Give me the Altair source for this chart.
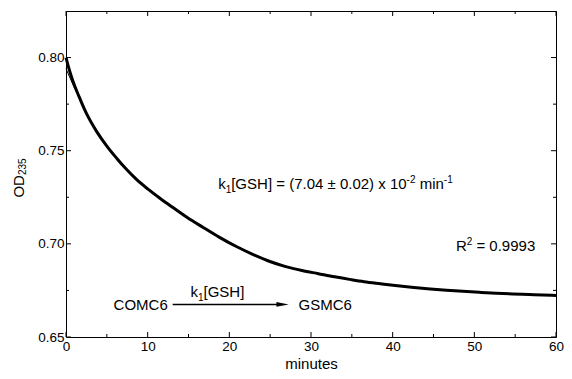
import altair as alt
import pandas as pd

# ---------------- data ----------------
minutes = [0, 0.3, 0.8, 1.6, 2.5, 3.8, 5.0, 6.2, 7.4, 8.6, 10.0, 11.5, 13.0, 14.8,
           16.8, 18.8, 20.8, 22.8, 24.8, 26.9, 28.9, 30.9, 32.9, 34.9, 36.5, 38.5,
           40.6, 42.6, 44.6, 46.6, 48.6, 50.6, 52.7, 54.7, 56.7, 58.4, 60.0]
od235 = [0.800, 0.795, 0.788, 0.779, 0.770, 0.760, 0.7525, 0.746, 0.740, 0.7347,
         0.7295, 0.7245, 0.7198, 0.7143, 0.7088, 0.7035, 0.6987, 0.6945, 0.6908,
         0.6878, 0.6857, 0.6840, 0.6823, 0.6808, 0.6797, 0.6786, 0.6775, 0.6766,
         0.6758, 0.6751, 0.6745, 0.6740, 0.6735, 0.6731, 0.6728, 0.6725, 0.6723]
fit_minutes = [0, 0.5, 1.0, 1.5]
fit_od235 = [0.794, 0.789, 0.784, 0.780]

x_major = [0, 10, 20, 30, 40, 50, 60]
x_minor = [5, 15, 25, 35, 45, 55]
y_major = [0.65, 0.70, 0.75, 0.80]
y_minor = [0.675, 0.725, 0.775]

XDOM = [0, 60]
YDOM = [0.65, 0.825]
W, H = 490, 326
FONT = "Liberation Sans"

# Arial / Liberation Sans advance widths (per 1000 em)
AW = {" ": 278, "(": 333, ")": 333, ".": 278, "=": 584, "±": 549, "[": 278,
      "]": 278, "k": 500, "G": 778, "S": 667, "H": 722, "x": 500, "m": 833,
      "i": 222, "n": 556, "R": 722, "C": 722, "O": 778, "M": 833, "-": 333,
      "D": 722}
for d in "0123456789":
    AW[d] = 556


def tw(s, size):
    return sum(AW.get(c, 556) for c in s) * size / 1000.0


def rich(pieces, x0, y0):
    """pieces: list of (text, size, dy). returns rows with dx offsets."""
    rows = []
    off = 0.0
    for txt, size, dy in pieces:
        lead = len(txt) - len(txt.lstrip(" "))
        off_txt = off + tw(" " * lead, size)
        rows.append(dict(t=x0, v=y0, text=txt.strip(), size=size,
                         dx=round(off_txt, 2), dy=dy))
        off += tw(txt, size)
    return rows


annot_rows = []
annot_rows += rich([("k", 15, 0), ("1", 10, 4),
                    ("[GSH] = (7.04 ± 0.02) x 10", 15, 0), ("-2", 10, -6),
                    (" min", 15, 0), ("-1", 10, -6)], 18.63, 0.7293)
annot_rows += rich([("R", 15, 0), ("2", 10, -6), (" = 0.9993", 15, 0)],
                   47.74, 0.6964)
annot_rows += rich([("k", 15, 0), ("1", 10, 4), ("[GSH]", 15, 0)],
                   15.24, 0.6717)
annot_rows += rich([("GSMC6", 15, 0)], 28.47, 0.6646)
annot = pd.DataFrame(annot_rows)

xs = alt.Scale(domain=XDOM, nice=False, zero=False)
ys = alt.Scale(domain=YDOM, nice=False, zero=False)

curve_df = pd.DataFrame({"t": minutes, "v": od235})
fit_df = pd.DataFrame({"t": fit_minutes, "v": fit_od235})

base_axes = alt.Chart(curve_df).mark_line(
    color="black", strokeWidth=3, strokeJoin="round", interpolate="monotone"
).encode(
    x=alt.X("t:Q", scale=xs,
            axis=alt.Axis(values=x_major, ticks=False, domain=False, grid=False,
                          labelFont=FONT, labelFontSize=13.5, labelColor="black",
                          labelPadding=2, labelOverlap=False, labelFlush=False,
                          title="minutes", titleFont=FONT, titleFontSize=15,
                          titleFontWeight="normal", titleColor="black",
                          titleY=31, titleBaseline="alphabetic")),
    y=alt.Y("v:Q", scale=ys,
            axis=alt.Axis(values=y_major, format=".2f", ticks=False, domain=False,
                          grid=False, labelFont=FONT, labelFontSize=13.5,
                          labelColor="black", labelPadding=2, labelOverlap=False,
                          labelFlush=False, title=None)),
)

fit_line = alt.Chart(fit_df).mark_line(color="black", strokeWidth=1).encode(
    x=alt.X("t:Q", scale=xs), y=alt.Y("v:Q", scale=ys))

# inward ticks
xmaj = pd.DataFrame({"t": x_major})
xmin = pd.DataFrame({"t": x_minor})
ymaj = pd.DataFrame({"v": y_major})
ymin = pd.DataFrame({"v": y_minor})


def xticks(df, length):
    bottom = alt.Chart(df).mark_rule(color="black", strokeWidth=1).encode(
        x=alt.X("t:Q", scale=xs), y=alt.value(H), y2=alt.value(H - length))
    top = alt.Chart(df).mark_rule(color="black", strokeWidth=1).encode(
        x=alt.X("t:Q", scale=xs), y=alt.value(0), y2=alt.value(length))
    return bottom + top


def yticks(df, length):
    left = alt.Chart(df).mark_rule(color="black", strokeWidth=1).encode(
        y=alt.Y("v:Q", scale=ys), x=alt.value(0), x2=alt.value(length))
    right = alt.Chart(df).mark_rule(color="black", strokeWidth=1).encode(
        y=alt.Y("v:Q", scale=ys), x=alt.value(W), x2=alt.value(W - length))
    return left + right


ticks = xticks(xmaj, 5) + xticks(xmin, 3) + yticks(ymaj, 5) + yticks(ymin, 3)

# annotation texts
texts = []
for i, r in annot.iterrows():
    texts.append(
        alt.Chart(annot.iloc[[i]]).mark_text(
            font=FONT, fontSize=float(r["size"]), color="black", align="left",
            baseline="alphabetic", dx=float(r["dx"]), dy=float(r["dy"])
        ).encode(x=alt.X("t:Q", scale=xs), y=alt.Y("v:Q", scale=ys),
                 text="text:N"))

comc = pd.DataFrame({"t": [12.46], "v": [0.6646], "text": ["COMC6"]})
comc_text = alt.Chart(comc).mark_text(
    font=FONT, fontSize=15, color="black", align="right", baseline="alphabetic"
).encode(x=alt.X("t:Q", scale=xs), y=alt.Y("v:Q", scale=ys), text="text:N")

arrow_df = pd.DataFrame({"t": [13.06], "t2": [26.3], "v": [0.6675]})
arrow_line = alt.Chart(arrow_df).mark_rule(color="black", strokeWidth=1.5).encode(
    x=alt.X("t:Q", scale=xs), x2="t2:Q", y=alt.Y("v:Q", scale=ys))
head_df = pd.DataFrame({"t": [26.52], "v": [0.6675]})
arrow_head = alt.Chart(head_df).mark_point(
    shape="M -1 -0.4 L 1 0 L -1 0.4 Z", size=150, filled=True,
    color="black", opacity=1, strokeWidth=0
).encode(x=alt.X("t:Q", scale=xs), y=alt.Y("v:Q", scale=ys))

# y-axis title OD with subscript 235 (rotated)
ytitle = alt.Chart(pd.DataFrame({"a": [0]})).mark_text(
    font=FONT, fontSize=15, color="black", angle=270, align="center",
    baseline="middle").encode(x=alt.value(-47), y=alt.value(175.3),
                              text=alt.value("OD"))
ysub = alt.Chart(pd.DataFrame({"a": [0]})).mark_text(
    font=FONT, fontSize=10, color="black", angle=270, align="center",
    baseline="middle").encode(x=alt.value(-43), y=alt.value(155.7),
                              text=alt.value("235"))

chart = alt.layer(
    base_axes, fit_line, ticks, *texts, comc_text, arrow_line, arrow_head,
    ytitle, ysub
).properties(
    width=W, height=H,
    autosize=alt.AutoSizeParams(type="none"),
    padding={"left": 58, "top": 3, "right": 8, "bottom": 34},
    background="white",
).configure_view(stroke="black", strokeWidth=1)

chart.save("out.html", embed_options={"renderer": "svg", "actions": False})
